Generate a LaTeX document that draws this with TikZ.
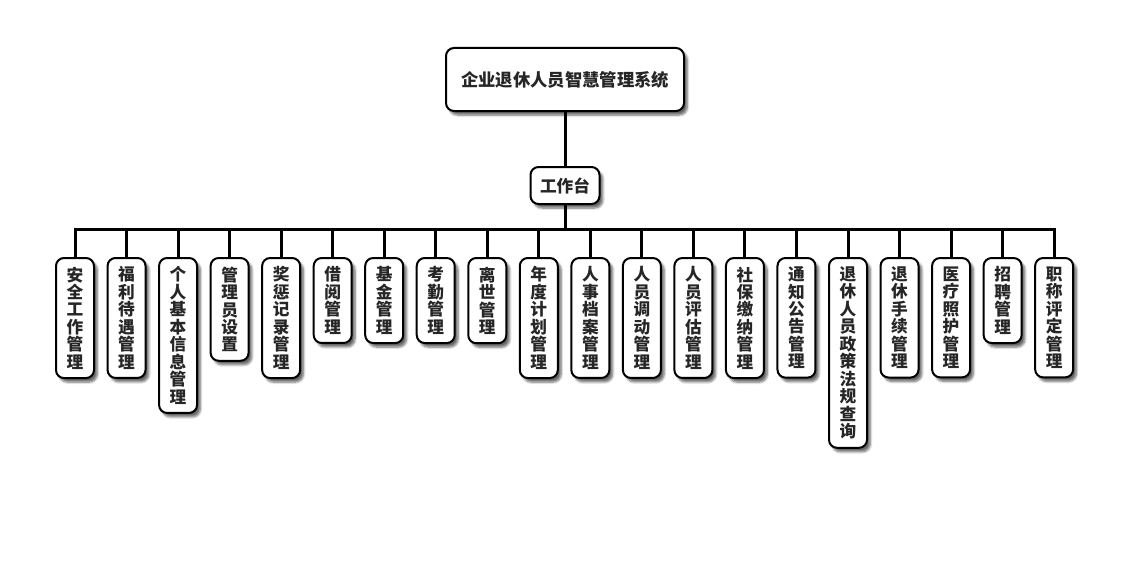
\documentclass[tikz,border=0pt]{standalone}
\usepackage{fontspec}
\newfontfamily\cjk{Noto Sans CJK SC}
\XeTeXlinebreaklocale "zh"
\usetikzlibrary{positioning, shadows.blur}

\begin{document}
\begin{tikzpicture}[
    x=0.75pt, y=-0.75pt,
    box/.style={draw, line width=1.5pt, rounded corners=6pt, fill=white, text=black!85, align=center,
        blur shadow={shadow xshift=2.5pt, shadow yshift=-3pt, shadow blur steps=6, shadow opacity=60}},
    leaf/.style={box, outer sep=0pt, minimum width=28.5pt, text width=13pt, inner xsep=0pt, inner ysep=6.5pt,
        font=\cjk\bfseries\fontsize{12.5}{13.1}\selectfont},
    link/.style={line width=2.25pt}
]
\useasboundingbox (0,0) rectangle (1130,560);

\node (root) [box, minimum width=178.5pt, minimum height=47.25pt, font=\cjk\bfseries\fontsize{13}{15}\selectfont] at (565,79.5) {企业退休人员智慧管理系统};
\node (desk) [box, below=40.5pt of root, minimum width=51.75pt, minimum height=27.75pt, font=\cjk\bfseries\fontsize{12.5}{15}\selectfont] {工作台};
\coordinate (bus) at (565,229);

\node (m1) [leaf, anchor=north west] at (56,258) {安全工作管理};
\node (m2) [leaf, right=10.15pt of m1.north east, anchor=north west] {福利待遇管理};
\node (m3) [leaf, right=10.15pt of m2.north east, anchor=north west] {个人基本信息管理};
\node (m4) [leaf, right=10.15pt of m3.north east, anchor=north west] {管理员设置};
\node (m5) [leaf, right=10.15pt of m4.north east, anchor=north west] {奖惩记录管理};
\node (m6) [leaf, right=10.15pt of m5.north east, anchor=north west] {借阅管理};
\node (m7) [leaf, right=10.15pt of m6.north east, anchor=north west] {基金管理};
\node (m8) [leaf, right=10.15pt of m7.north east, anchor=north west] {考勤管理};
\node (m9) [leaf, right=10.15pt of m8.north east, anchor=north west] {离世管理};
\node (m10) [leaf, right=10.15pt of m9.north east, anchor=north west] {年度计划管理};
\node (m11) [leaf, right=10.15pt of m10.north east, anchor=north west] {人事档案管理};
\node (m12) [leaf, right=10.15pt of m11.north east, anchor=north west] {人员调动管理};
\node (m13) [leaf, right=10.15pt of m12.north east, anchor=north west] {人员评估管理};
\node (m14) [leaf, right=10.15pt of m13.north east, anchor=north west] {社保缴纳管理};
\node (m15) [leaf, right=10.15pt of m14.north east, anchor=north west] {通知公告管理};
\node (m16) [leaf, right=10.15pt of m15.north east, anchor=north west] {退休人员政策法规查询};
\node (m17) [leaf, right=10.15pt of m16.north east, anchor=north west] {退休手续管理};
\node (m18) [leaf, right=10.15pt of m17.north east, anchor=north west] {医疗照护管理};
\node (m19) [leaf, right=10.15pt of m18.north east, anchor=north west] {招聘管理};
\node (m20) [leaf, right=10.15pt of m19.north east, anchor=north west] {职称评定管理};

\draw[link] (root) -- (desk);
\draw[link] (desk) -- (bus);
\draw[link] (bus) -| (m1);
\draw[link] (bus) -| (m2);
\draw[link] (bus) -| (m3);
\draw[link] (bus) -| (m4);
\draw[link] (bus) -| (m5);
\draw[link] (bus) -| (m6);
\draw[link] (bus) -| (m7);
\draw[link] (bus) -| (m8);
\draw[link] (bus) -| (m9);
\draw[link] (bus) -| (m10);
\draw[link] (bus) -| (m11);
\draw[link] (bus) -| (m12);
\draw[link] (bus) -| (m13);
\draw[link] (bus) -| (m14);
\draw[link] (bus) -| (m15);
\draw[link] (bus) -| (m16);
\draw[link] (bus) -| (m17);
\draw[link] (bus) -| (m18);
\draw[link] (bus) -| (m19);
\draw[link] (bus) -| (m20);
\end{tikzpicture}
\end{document}
